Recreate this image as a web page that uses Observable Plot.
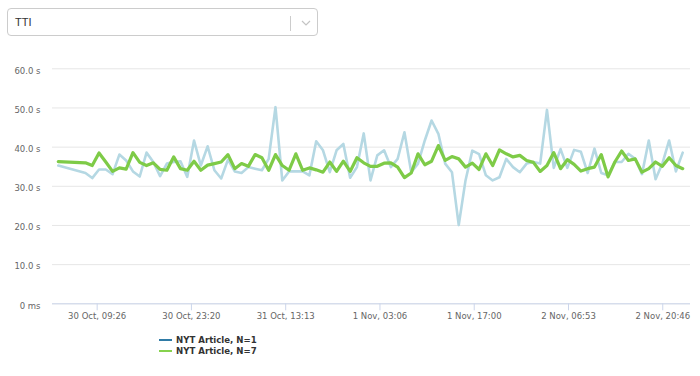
<!DOCTYPE html>
<html>
<head>
<meta charset="utf-8">
<script src="https://cdn.jsdelivr.net/npm/d3@7"></script>
<script src="https://cdn.jsdelivr.net/npm/@observablehq/plot@0.6"></script>
<style>
  html, body { margin: 0; padding: 0; background: #fff; }
  #page { position: relative; width: 700px; height: 376px; overflow: hidden; font-family: "DejaVu Sans", sans-serif; }
  #header { position: relative; height: 45px; }
  #dd { position: absolute; left: 7px; top: 8px; width: 309px; height: 26px; border: 1px solid #cccccc; border-radius: 4px; box-sizing: content-box; }
  #dd .label { position: absolute; left: 7px; top: 0; line-height: 27px; font-family: "Liberation Sans", Arial, sans-serif; font-size: 11px; color: #333; }
  #dd .sep { position: absolute; left: 282px; top: 7px; width: 1px; height: 15px; background: #cccccc; }
  #dd svg.chev { position: absolute; left: 292px; top: 10px; }
  #chart { height: 285px; }
  #chart svg { display: block; }
  #legend { position: relative; height: 46px; }
  .item { position: absolute; left: 159px; height: 11px; display: flex; align-items: center; font-size: 8.6px; font-weight: bold; color: #333; }
  .sw { width: 13px; height: 2px; margin-right: 4px; }
</style>
</head>
<body>
<div id="page">
  <div id="header">
    <div id="dd"><span class="label" id="ddlabel"></span><span class="sep"></span>
      <svg class="chev" width="12" height="8"><path d="M2,2 L6,6 L10,2" fill="none" stroke="#c4c4c4" stroke-width="1.2"/></svg>
    </div>
  </div>
  <div id="chart"></div>
  <div id="legend"></div>
</div>
<script>
// ---- data ----
const metricName = "TTI";
const seriesNames = ["NYT Article, N=1", "NYT Article, N=7"];
const seriesLineColors = ["#b5d8e3", "#7ecb47"];
const seriesSwatchColors = ["#2f7ba6", "#86d24e"];

// first sample, then hourly samples from startHour
const firstSample = "2019-10-30T03:43:00Z";
const startHour = "2019-10-30T07:43:00Z";

// N=1 (light blue)
const valuesN1 = [35.3,
  33.4, 32.1, 34.3, 34.3, 33.1, 38.1, 36.6, 33.8, 32.5, 38.6,
  36.2, 32.6, 35.8, 36.2, 36.4, 32.4, 41.7, 35.3, 40.2, 34.1,
  32.0, 36.8, 33.8, 33.4, 34.9, 34.5, 34.1, 37.0, 50.2, 31.5,
  33.8, 33.8, 33.8, 32.8, 41.5, 39.2, 33.6, 39.2, 40.8, 32.2,
  34.9, 43.5, 31.5, 37.9, 39.2, 34.9, 37.0, 43.8, 33.6, 35.8,
  41.7, 46.8, 43.4, 35.8, 33.6, 20.1, 31.5, 39.1, 38.2, 32.8,
  31.5, 32.3, 37.0, 34.9, 33.6, 35.8, 36.2, 35.8, 49.5, 34.7,
  39.5, 34.7, 39.3, 38.8, 33.4, 39.6, 33.4, 32.8, 36.2, 36.2,
  38.3, 37.0, 33.1, 41.7, 31.8, 35.8, 41.7, 33.8, 38.6];

// N=7 (green)
const valuesN7 = [36.3,
  36.0, 35.3, 38.5, 36.2, 33.8, 34.7, 34.4, 38.6, 36.1, 35.3,
  36.0, 34.3, 34.1, 37.5, 34.5, 34.1, 36.4, 34.1, 35.4, 35.8,
  36.2, 38.1, 34.5, 35.8, 35.1, 38.1, 37.3, 34.1, 38.1, 35.3,
  34.1, 38.3, 34.1, 34.7, 34.2, 33.6, 36.2, 33.8, 36.4, 33.8,
  37.3, 36.0, 35.1, 35.1, 35.9, 36.0, 34.9, 32.2, 33.4, 38.3,
  35.5, 36.4, 40.4, 36.6, 37.6, 37.0, 34.9, 35.9, 34.3, 38.3,
  35.3, 39.3, 38.3, 37.5, 37.9, 36.6, 36.1, 33.8, 35.3, 38.6,
  34.5, 36.8, 35.6, 33.9, 34.5, 34.9, 38.1, 32.4, 36.2, 39.0,
  36.6, 37.0, 33.6, 34.5, 36.2, 35.1, 37.3, 35.3, 34.5];

const yTicks = [0, 10, 20, 30, 40, 50, 60];
const yTickLabels = ["0 ms", "10.0 s", "20.0 s", "30.0 s", "40.0 s", "50.0 s", "60.0 s"];
const xTicks = ["2019-10-30T09:26:40Z", "2019-10-30T23:20:00Z", "2019-10-31T13:13:20Z",
  "2019-11-01T03:06:40Z", "2019-11-01T17:00:00Z", "2019-11-02T06:53:20Z", "2019-11-02T20:46:40Z"];
const xTickLabels = ["30 Oct, 09:26", "30 Oct, 23:20", "31 Oct, 13:13", "1 Nov, 03:06",
  "1 Nov, 17:00", "2 Nov, 06:53", "2 Nov, 20:46"];
const xDomain = ["2019-10-30T02:51:46Z", "2019-11-03T00:51:52Z"];

// ---- build ----
document.getElementById("ddlabel").textContent = metricName;

const times = valuesN1.map((_, i) => i === 0 ? new Date(firstSample) : d3.utcHour.offset(new Date(startHour), i - 1));
const dataN1 = valuesN1.map((v, i) => ({t: times[i], v}));
const dataN7 = valuesN7.map((v, i) => ({t: times[i], v}));

const xTickDates = xTicks.map(s => new Date(s));
const xLabelMap = new Map(xTickDates.map((d, i) => [+d, xTickLabels[i]]));
const yLabelMap = new Map(yTicks.map((v, i) => [v, yTickLabels[i]]));

const chart = Plot.plot({
  width: 700,
  height: 285,
  marginLeft: 52,
  marginRight: 10,
  marginTop: 23.3,
  marginBottom: 26.7,
  style: {fontFamily: "'DejaVu Sans', sans-serif", fontSize: "8.5px", background: "transparent", overflow: "visible"},
  x: {type: "utc", domain: xDomain.map(s => new Date(s))},
  y: {domain: [0, 60]},
  marks: [
    Plot.gridY(yTicks, {stroke: "#e6e6e6", strokeOpacity: 1}),
    Plot.axisY(yTicks, {tickSize: 0, tickPadding: 12, tickFormat: d => yLabelMap.get(d), fill: "#666", dy: 2, label: null}),
    Plot.ruleY([0], {stroke: "#ccd6eb"}),
    Plot.axisX(xTickDates, {tickSize: 7, tickPadding: 2, stroke: "#ccd6eb", strokeOpacity: 1, fill: "#666", tickFormat: d => xLabelMap.get(+d), label: null}),
    Plot.lineY(dataN1, {x: "t", y: "v", stroke: seriesLineColors[0], strokeWidth: 2.6, strokeLinejoin: "round"}),
    Plot.lineY(dataN7, {x: "t", y: "v", stroke: seriesLineColors[1], strokeWidth: 3.2, strokeLinejoin: "round"})
  ]
});
document.getElementById("chart").appendChild(chart);

const legend = document.getElementById("legend");
seriesNames.forEach((name, i) => {
  const it = document.createElement("div");
  it.className = "item";
  it.style.top = (4.5 + i * 11) + "px";
  const sw = document.createElement("span");
  sw.className = "sw";
  sw.style.background = seriesSwatchColors[i];
  const tx = document.createElement("span");
  tx.textContent = name;
  it.appendChild(sw);
  it.appendChild(tx);
  legend.appendChild(it);
});
</script>
</body>
</html>
